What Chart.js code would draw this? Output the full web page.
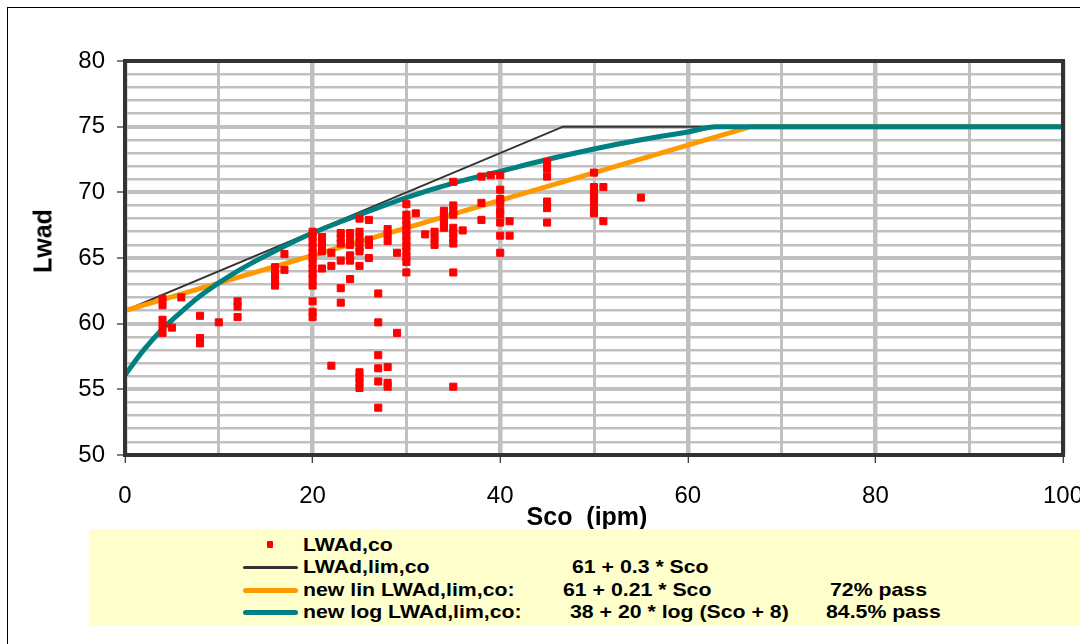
<!DOCTYPE html>
<html lang="en">
<head>
<meta charset="UTF-8">
<title>Lwad vs Sco</title>
<script src="https://cdn.jsdelivr.net/npm/chart.js"></script>
<style>
    html, body { margin: 0; padding: 0; background: #fff; overflow: hidden; }
    #wrap { position: relative; width: 1080px; height: 644px; }
    #frame { position: absolute; left: 7px; top: 7px; width: 1100px; height: 700px; border: 1px solid #000; }
    canvas { position: absolute; left: 0; top: 0; }
    .ttl { position: absolute; font-family: "Liberation Sans", Arial, sans-serif; font-weight: bold; font-size: 25px; color: #000; white-space: pre; }
    #ytitle { left: 43px; top: 241px; transform: translate(-50%, -50%) rotate(-90deg); }
    #xtitle { left: 587px; top: 516px; transform: translate(-50%, -50%); }
    #legend { position: absolute; left: 89px; top: 529px; width: 1000px; height: 96px; background: #ffffcc; }
    .lg { position: absolute; font-family: "Liberation Sans", Arial, sans-serif; font-weight: bold; font-size: 18.5px; white-space: pre; line-height: 1;
          transform-origin: left center; transform: translateY(-50%) scaleX(1.15); }
    .sym { position: absolute; border-radius: 3px; }
</style>
</head>
<body>
<div id="wrap">
    <div id="frame"></div>
    <canvas id="chart" width="1080" height="644"></canvas>
    <div class="ttl" id="ytitle">Lwad</div>
    <div class="ttl" id="xtitle">Sco  (ipm)</div>
    <div id="legend"></div>
</div>

<script>
    const sco = [
        4, 4, 4, 4, 4, 5, 6, 8, 8, 8, 10, 12, 12, 12,
        16, 16, 16, 16, 17, 17,
        20, 20, 20, 20, 20, 20, 20, 20, 20, 20, 20, 20, 20, 20,
        21, 21, 21, 21, 21, 22, 22, 22,
        23, 23, 23, 23, 23, 23, 24, 24, 24, 24, 24, 24,
        25, 25, 25, 25, 25, 25, 25, 25, 25, 25, 25,
        26, 26, 26, 26, 27, 27, 27, 27, 27, 27,
        28, 28, 28, 28, 28, 28, 29, 29,
        30, 30, 30, 30, 30, 30, 30, 30, 30, 30, 30, 30,
        31, 32, 33, 33, 33, 34, 34, 34, 34,
        35, 35, 35, 35, 35, 35, 35, 35, 35, 35, 36,
        38, 38, 38, 39,
        40, 40, 40, 40, 40, 40, 40, 40, 40, 41, 41,
        45, 45, 45, 45, 45, 45,
        50, 50, 50, 50, 50, 50, 50, 51, 51, 55
    ];
    const lwad = [
        61.9, 61.4, 60.3, 59.8, 59.3, 59.7, 62.0, 60.6, 58.9, 58.5, 60.1, 61.7, 61.3, 60.5,
        64.3, 63.8, 63.3, 62.9, 65.3, 64.1,
        67.0, 66.6, 66.2, 65.8, 65.4, 65.0, 64.6, 64.2, 63.8, 63.4, 62.9, 61.7, 60.9, 60.5,
        66.6, 66.2, 65.8, 65.5, 64.2, 65.4, 64.4, 56.8,
        66.9, 66.5, 66.1, 64.8, 62.7, 61.6, 66.9, 66.5, 66.0, 65.2, 64.8, 63.4,
        68.0, 67.0, 66.6, 66.2, 65.8, 65.5, 64.4, 56.3, 55.9, 55.5, 55.1,
        67.9, 66.4, 66.0, 65.0, 62.3, 60.1, 57.6, 56.6, 55.6, 53.6,
        67.2, 66.8, 66.3, 56.7, 55.5, 55.2, 65.4, 59.3,
        69.1, 68.3, 67.9, 67.5, 67.1, 66.7, 66.3, 65.9, 65.5, 65.1, 64.7, 63.9,
        68.4, 66.8, 67.0, 66.5, 66.0, 68.6, 68.2, 67.7, 67.3,
        70.8, 69.0, 68.6, 68.3, 67.3, 66.9, 66.5, 66.1, 63.9, 55.2, 67.1,
        71.2, 69.2, 67.9, 71.3,
        71.3, 70.2, 69.5, 69.2, 68.6, 68.3, 67.7, 66.7, 65.4, 67.8, 66.7,
        72.3, 71.8, 71.2, 69.3, 68.8, 67.7,
        71.5, 70.4, 70.0, 69.6, 69.3, 68.8, 68.4, 70.4, 67.8, 69.6
    ];

    // limit lines (vertices)
    const limX = [0, 46.7, 100];
    const limY = [61, 75, 75];
    const linX = [0, 66.7, 100];
    const linY = [61, 75, 75];
    const logX = [0, 2, 4, 6, 8, 10, 12, 14, 17, 20, 25, 30, 35, 40, 45, 50, 55, 60, 63, 100];
    const logY = [56.1, 58.0, 59.6, 60.9, 62.1, 63.1, 64.0, 64.8, 65.9, 66.9, 68.3, 69.6, 70.7, 71.6, 72.5, 73.3, 74.0, 74.6, 75.0, 75.0];

    const legendRows = [
        { label: 'LWAd,co', formula: '', pass: '' },
        { label: 'LWAd,lim,co', formula: '61 + 0.3 * Sco', pass: '' },
        { label: 'new lin LWAd,lim,co:', formula: '61 + 0.21 * Sco', pass: '72% pass' },
        { label: 'new log LWAd,lim,co:', formula: '38 + 20 * log (Sco + 8)', pass: '84.5% pass' }
    ];

    function pts(xs, ys) {
        return xs.map((x, i) => ({ x: x, y: ys[i] }));
    }

    // draws the dark frame round the plot area
    const plotBorder = {
        id: 'plotBorder',
        afterDraw(chart) {
            const a = chart.chartArea;
            const ctx = chart.ctx;
            ctx.save();
            ctx.strokeStyle = '#333333';
            ctx.lineWidth = 4;
            ctx.strokeRect(a.left, a.top, a.right - a.left, a.bottom - a.top);
            ctx.restore();
        }
    };

    const tickFont = { family: '"Liberation Sans", Arial, sans-serif', size: 24 };

    new Chart(document.getElementById('chart'), {
        type: 'scatter',
        data: {
            datasets: [
                {
                    label: 'LWAd,co',
                    data: pts(sco, lwad),
                    pointStyle: 'rect',
                    pointRadius: 5,
                    pointBackgroundColor: '#ff0000',
                    pointBorderColor: '#ff0000',
                    pointBorderWidth: 1,
                    order: 0
                },
                {
                    label: 'LWAd,lim,co',
                    type: 'line',
                    data: pts(limX, limY),
                    borderColor: '#333333',
                    borderWidth: 2,
                    pointRadius: 0,
                    order: 3
                },
                {
                    label: 'new lin LWAd,lim,co',
                    type: 'line',
                    data: pts(linX, linY),
                    borderColor: '#ff9900',
                    borderWidth: 5,
                    pointRadius: 0,
                    order: 2
                },
                {
                    label: 'new log LWAd,lim,co',
                    type: 'line',
                    data: pts(logX, logY),
                    borderColor: '#008080',
                    borderWidth: 5,
                    pointRadius: 0,
                    cubicInterpolationMode: 'monotone',
                    order: 1
                }
            ]
        },
        options: {
            responsive: false,
            animation: false,
            layout: { padding: { left: 0, top: 61, right: 17, bottom: 0 } },
            plugins: { legend: { display: false }, tooltip: { enabled: false } },
            scales: {
                x: {
                    type: 'linear',
                    min: 0, max: 100,
                    afterFit(s) { s.height = 189; s.paddingRight = 0; s.paddingLeft = 0; },
                    ticks: {
                        stepSize: 10,
                        autoSkip: false,
                        maxRotation: 0,
                        padding: 19,
                        color: '#000',
                        font: tickFont,
                        callback: v => (v % 20 === 0 ? v : '')
                    },
                    grid: {
                        color: '#c0c0c0',
                        lineWidth: c => (c.tick && c.tick.value % 20 === 0 ? 4.5 : 3),
                        tickLength: 8,
                        tickColor: c => (c.tick && c.tick.value % 20 === 0 ? '#000' : 'rgba(0,0,0,0)'),
                        tickWidth: 1
                    },
                    border: { display: false }
                },
                y: {
                    min: 50, max: 80,
                    afterFit(s) { s.width = 125; s.paddingTop = 0; s.paddingBottom = 0; },
                    ticks: {
                        stepSize: 1,
                        autoSkip: false,
                        padding: 12,
                        color: '#000',
                        font: tickFont,
                        callback: v => (v % 5 === 0 ? v : '')
                    },
                    grid: {
                        color: '#c0c0c0',
                        lineWidth: c => (c.tick && c.tick.value % 5 === 0 ? 4 : 2.5),
                        tickLength: 8,
                        tickColor: c => (c.tick && c.tick.value % 5 === 0 ? '#000' : 'rgba(0,0,0,0)'),
                        tickWidth: 1
                    },
                    border: { display: false }
                }
            }
        },
        plugins: [plotBorder]
    });

    // legend box under the chart
    const lg = document.getElementById('legend');
    const rowY = [16, 38, 61, 83];
    const symbols = [
        { kind: 'dot', color: '#ff0000' },
        { kind: 'line', color: '#333333', h: 3 },
        { kind: 'line', color: '#ff9900', h: 5 },
        { kind: 'line', color: '#008080', h: 5 }
    ];
    const formulaX = [0, 483, 474, 481];
    const passX = [0, 0, 741, 737];
    legendRows.forEach((r, i) => {
        const s = symbols[i];
        const sym = document.createElement('div');
        sym.className = 'sym';
        if (s.kind === 'dot') {
            sym.style.cssText = 'left:178px;top:' + (rowY[i] - 4) + 'px;width:6px;height:7px;background:' + s.color + ';border-radius:1px;';
        } else {
            sym.style.cssText = 'left:154px;top:' + (rowY[i] - s.h / 2) + 'px;width:55px;height:' + s.h + 'px;background:' + s.color + ';';
        }
        lg.appendChild(sym);
        const add = (txt, x) => {
            if (!txt) return;
            const d = document.createElement('div');
            d.className = 'lg';
            d.textContent = txt;
            d.style.left = x + 'px';
            d.style.top = rowY[i] + 'px';
            lg.appendChild(d);
        };
        add(r.label, 214);
        add(r.formula, formulaX[i]);
        add(r.pass, passX[i]);
    });
</script>
</body>
</html>
